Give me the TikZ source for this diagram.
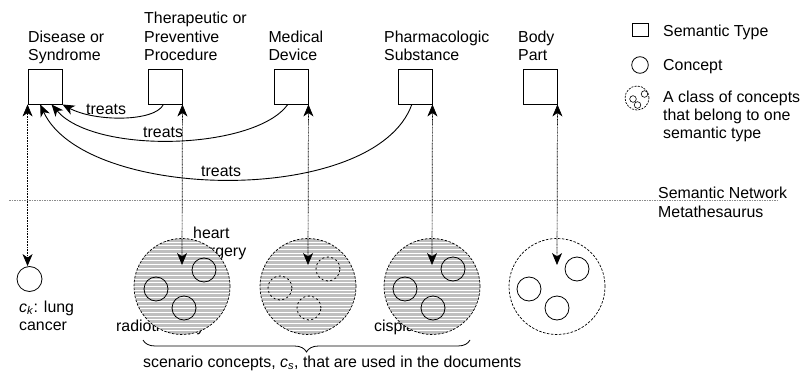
\documentclass[tikz,border=0pt]{standalone}
\usepackage{fontspec}
\setmainfont{Liberation Sans}
\usetikzlibrary{arrows.meta,decorations.pathreplacing,calc}
\begin{document}
\begin{tikzpicture}[x=1pt,y=-1pt,
  >={Stealth[length=12pt,width=10pt,inset=3.5pt]},
  every node/.style={font=\fontsize{15.9}{18.3}\selectfont},
  lbl/.style={inner sep=0pt, anchor=base west, align=left},
  stype/.style={draw, line width=0.9pt, minimum width=34pt, minimum height=35pt, inner sep=0pt},
  bigc/.style={circle, draw, line width=0.7pt, dash pattern=on 2.5pt off 1.5pt, minimum size=96pt, inner sep=0pt},
  hatch/.style={fill=black!25, path picture={\foreach \k in {-14,...,14}{\draw[white, line width=1pt, solid] ([xshift=-50pt, yshift=\k*3.7pt]path picture bounding box.center) -- ++(100pt,0pt);}}},
  inc/.style={circle, draw, line width=0.8pt, minimum size=24pt, inner sep=0pt},
  incd/.style={inc, dash pattern=on 2pt off 2.5pt},
  darr/.style={<->, line width=0.7pt, dash pattern=on 1pt off 0.6pt},
  tarr/.style={->, line width=0.9pt},
  sepline/.style={draw=black!45, line width=0.5pt, dash pattern=on 1.5pt off 1pt}
]
\useasboundingbox (0,0) rectangle (803,377);

% semantic type boxes and labels (base = last line)
\node[lbl] (lds) at (28,60.6) {Disease or\\Syndrome};
\node[lbl] (ltp) at (144,60.6) {Therapeutic or\\Preventive\\Procedure};
\node[lbl] (lmd) at (268.3,60.6) {Medical\\Device};
\node[lbl] (lph) at (384,60.6) {Pharmacologic\\Substance};
\node[lbl] (lbp) at (518,60.6) {Body\\Part};

\node[stype] (ds) at (45,86.5) {};
\node[stype] (tp) at (165,86.5) {};
\node[stype] (md) at (291,86.5) {};
\node[stype] (ph) at (415,86.5) {};
\node[stype] (bp) at (540,86.5) {};

% legend
\node[draw, line width=0.9pt, minimum width=16pt, minimum height=13pt, inner sep=0pt] (lgs) at (640,30) {};
\node[lbl] (lgst) at (663,36.3) {Semantic Type};
\node[circle, draw, line width=0.8pt, minimum size=16.6pt, inner sep=0pt] (lgc) at (640,65) {};
\node[lbl] (lgct) at (663,70.6) {Concept};
\node[circle, draw, line width=0.7pt, dash pattern=on 2pt off 1.2pt, minimum size=24pt, inner sep=0pt] (lgk) at (637,98) {};
\node[circle, draw, line width=0.6pt, minimum size=6.6pt, inner sep=0pt] (lgk1) at ($(lgk)+(7.5,-4)$) {};
\node[circle, draw, line width=0.6pt, minimum size=6.6pt, inner sep=0pt] (lgk2) at ($(lgk)+(-4,1)$) {};
\node[circle, draw, line width=0.6pt, minimum size=6.6pt, inner sep=0pt] (lgk3) at ($(lgk)+(0.5,7)$) {};
\node[lbl] (lgkt) at (663,138.6) {A class of concepts\\that belong to one\\semantic type};

% separator
\coordinate (sepL) at (9,200);
\coordinate (sepR) at (778,200);
\draw[sepline] (sepL) -- (sepR);
\node[lbl] (sn) at (658,198) {Semantic Network};
\node[lbl] (mt) at (658,217.3) {Metathesaurus};

% concept ck
\node[inc, minimum size=25pt] (ck) at (29.5,279) {};
\node[lbl] (ckt) at (19,330.3) {\textit{c}\textsubscript{\textit{k}}: lung\\cancer};

% labels partly hidden by classes
\node[lbl] (lhs) at (193,256.3) {heart\\surgery};
\node[lbl] (lrt) at (116,331) {radiotherapy};
\node[lbl] (lcp) at (374,331) {cisplatin};

% classes of concepts
\node[bigc,hatch] (c1) at (182,286.5) {};
\node[bigc,hatch] (c2) at (308,286.5) {};
\node[bigc,hatch] (c3) at (432,286.5) {};
\node[bigc] (c4) at (557,286.5) {};

\node[inc] (c1a) at ($(c1)+(-26,2.5)$) {};
\node[inc] (c1b) at ($(c1)+(22,-16.5)$) {};
\node[inc] (c1c) at ($(c1)+(2,21.5)$) {};
\node[incd] (c2a) at ($(c2)+(-28,1.5)$) {};
\node[incd] (c2b) at ($(c2)+(20,-17.5)$) {};
\node[incd] (c2c) at ($(c2)+(1,21.5)$) {};
\node[inc] (c3a) at ($(c3)+(-27,2.5)$) {};
\node[inc] (c3b) at ($(c3)+(21,-17.5)$) {};
\node[inc] (c3c) at ($(c3)+(1,21.5)$) {};
\node[inc] (c4a) at ($(c4)+(-28,2.5)$) {};
\node[inc] (c4b) at ($(c4)+(20,-17.5)$) {};
\node[inc] (c4c) at ($(c4)+(0,21.5)$) {};

% vertical dotted links
\coordinate (a1) at ($(c1)+(0,-21.5)$);
\coordinate (a2) at ($(c2)+(0,-21.5)$);
\coordinate (a3) at ($(c3)+(0,-21.5)$);
\coordinate (a4) at ($(c4)+(0,-21.5)$);
\draw[darr] (ds.south west) -- (ds.south west |- ck.north);
\draw[darr] (tp.south east) -- (a1);
\draw[darr] (md.south east) -- (a2);
\draw[darr] (ph.south east) -- (a3);
\draw[darr] (bp.south east) -- (a4);

% treats relations
\draw[tarr] (tp.-95) .. controls (155,122) and (95,122) .. (ds.south east);
\draw[tarr] (md.-100) .. controls (255,150) and (95,155) .. (ds.-70);
\draw[tarr] (ph.-100) .. controls (375,207) and (85,202) .. (ds.-105);
\node[lbl] (tr1) at (86,115) {treats};
\node[lbl] (tr2) at (143,137.7) {treats};
\node[lbl] (tr3) at (201,176.7) {treats};

% brace
\coordinate (b1) at (143,340);
\coordinate (b2) at (470,340);
\draw[line width=0.8pt, decorate, decoration={brace, mirror, amplitude=12pt}] (b1) -- (b2);
\node[lbl] (sc) at (143,367) {scenario concepts, \textit{c}\textsubscript{\textit{s}}, that are used in the documents};
\end{tikzpicture}
\end{document}
